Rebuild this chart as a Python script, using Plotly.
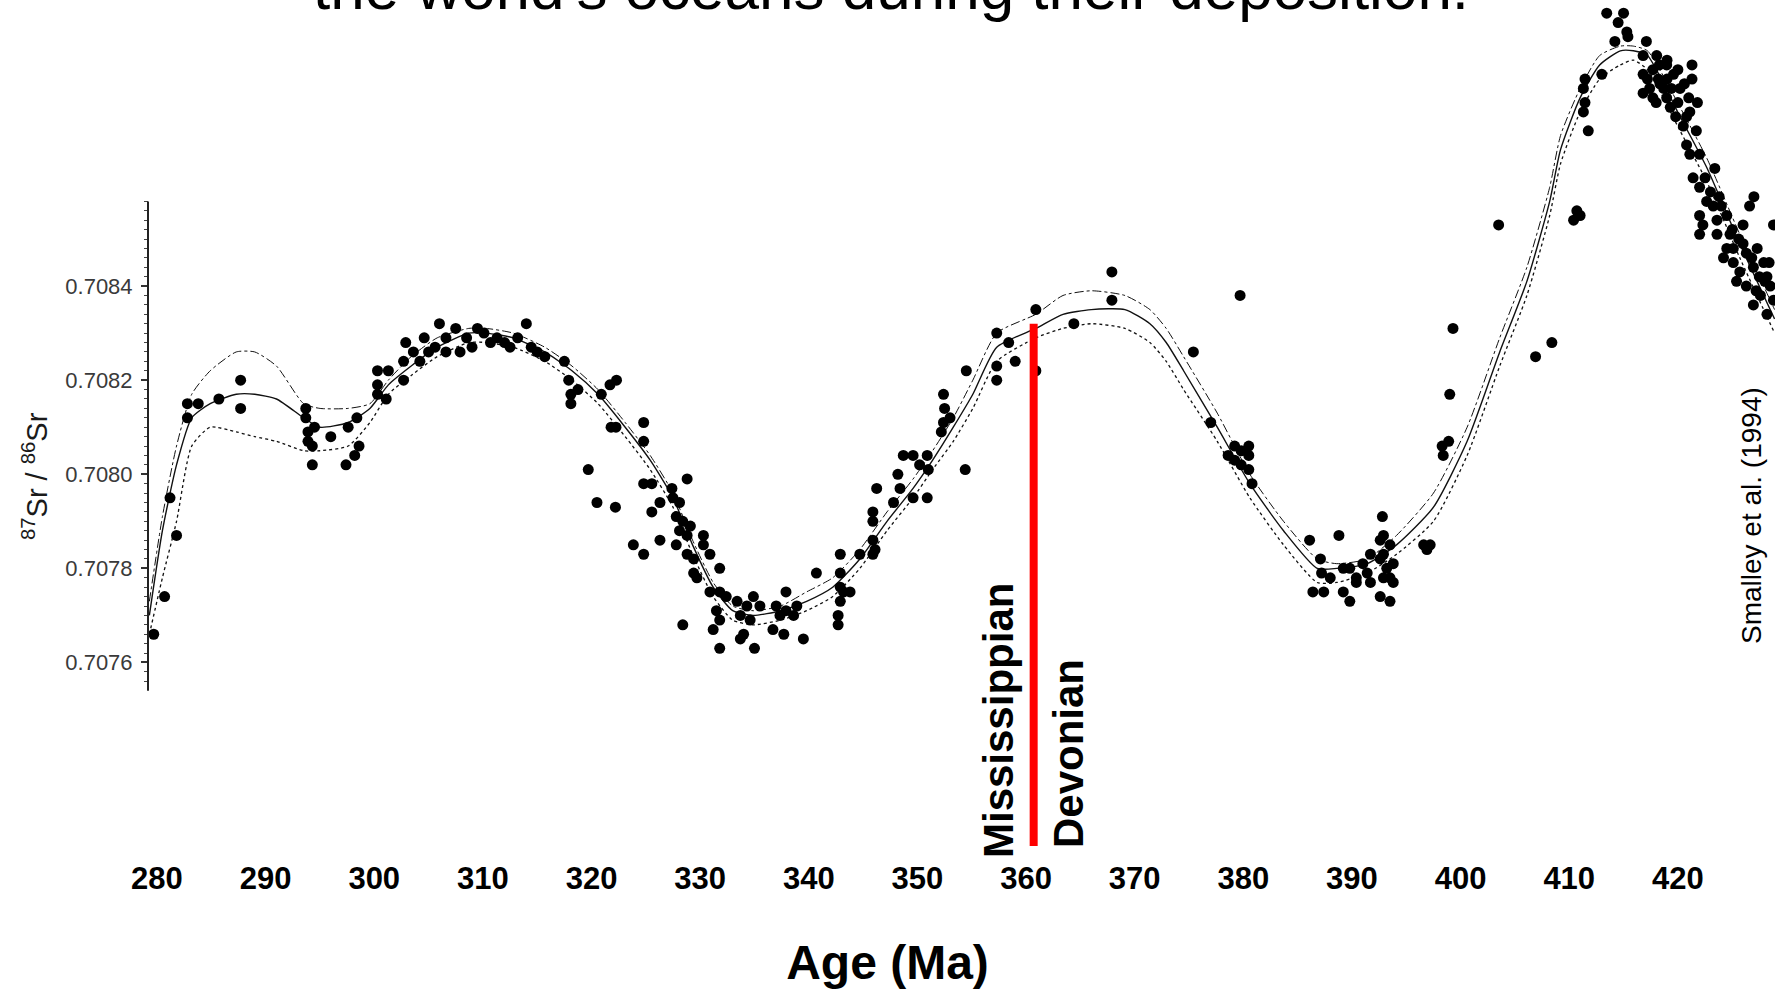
import numpy as np
import plotly.graph_objects as go

# ---------------- data (Age in Ma, 87Sr/86Sr) ----------------
AGE_CURVE = [279.3, 280.5, 281.8, 283.2, 284.9, 287.3, 289.0, 291.0, 293.5, 295.0,
             297.6, 299.6, 301.3, 303.4, 305.8, 308.7, 310.3, 312.8, 315.7, 318.2,
             320.6, 323.1, 325.4, 327.5, 329.3, 331.2, 333.0, 334.9, 337.4, 339.8,
             342.2, 344.7, 347.2, 349.6, 351.4, 353.3, 355.1, 357.3, 360.9, 363.4,
             366.0, 369.1, 371.4, 372.9, 374.5, 377.6, 380.6, 383.7, 386.8, 388.6,
             391.4, 394.1, 397.5, 400.6, 403.6, 406.1, 408.2, 409.2, 411.0, 412.8,
             414.7, 415.9, 417.2, 420.2, 422.7, 425.7, 428.9]
SR_MID = [0.70770, 0.70788, 0.70802, 0.70812, 0.70815, 0.70817, 0.70817, 0.70816, 0.70812, 0.70810,
          0.70811, 0.70814, 0.70819, 0.70823, 0.70827, 0.70830, 0.70830, 0.70829, 0.70826, 0.70822,
          0.70817, 0.70810, 0.70803, 0.70795, 0.70785, 0.70776, 0.70771, 0.70770, 0.70771, 0.70773,
          0.70776, 0.70782, 0.70790, 0.70797, 0.70803, 0.70810, 0.70817, 0.70827, 0.70831, 0.70834,
          0.70835, 0.70835, 0.70832, 0.70828, 0.70822, 0.70810, 0.70798, 0.70788, 0.70780, 0.70780,
          0.70781, 0.70785, 0.70793, 0.70807, 0.70826, 0.70841, 0.70858, 0.70869, 0.70880, 0.70887,
          0.70890, 0.70890, 0.70889, 0.70876, 0.70865, 0.70849, 0.70833]
SR_UPPER = [0.70773, 0.70791, 0.70806, 0.70817, 0.70822, 0.70826, 0.70826, 0.70823, 0.70815, 0.70814,
            0.70814, 0.70815, 0.70820, 0.70825, 0.70829, 0.70831, 0.70831, 0.70830, 0.70827, 0.70823,
            0.70818, 0.70811, 0.70804, 0.70796, 0.70786, 0.70777, 0.70772, 0.70771, 0.70772, 0.70775,
            0.70778, 0.70784, 0.70792, 0.70799, 0.70805, 0.70812, 0.70820, 0.70830, 0.70834, 0.70838,
            0.70839, 0.70838, 0.70835, 0.70831, 0.70825, 0.70813, 0.70800, 0.70790, 0.70782, 0.70781,
            0.70782, 0.70787, 0.70796, 0.70810, 0.70829, 0.70844, 0.70861, 0.70872, 0.70882, 0.70889,
            0.70891, 0.70891, 0.70890, 0.70878, 0.70867, 0.70851, 0.70835]
SR_LOWER = [0.70766, 0.70778, 0.70790, 0.70806, 0.70810, 0.70809, 0.70808, 0.70807, 0.70805, 0.70805,
            0.70806, 0.70811, 0.70817, 0.70821, 0.70825, 0.70828, 0.70828, 0.70827, 0.70824, 0.70820,
            0.70815, 0.70808, 0.70801, 0.70793, 0.70783, 0.70774, 0.70769, 0.70768, 0.70769, 0.70771,
            0.70774, 0.70780, 0.70788, 0.70795, 0.70801, 0.70807, 0.70814, 0.70824, 0.70829, 0.70831,
            0.70832, 0.70831, 0.70828, 0.70824, 0.70818, 0.70807, 0.70795, 0.70785, 0.70777, 0.70777,
            0.70779, 0.70783, 0.70790, 0.70804, 0.70823, 0.70838, 0.70855, 0.70866, 0.70877, 0.70884,
            0.70887, 0.70888, 0.70886, 0.70873, 0.70862, 0.70846, 0.70830]

AGE_A = [279.7, 280.7, 281.2, 281.8, 282.8, 282.8, 283.8, 285.7, 287.7, 287.7,
         293.7, 293.7, 293.9, 294.5, 293.9, 294.3, 294.3, 296.0, 297.6, 297.4, 298.4, 298.2, 298.6]
SR_A = [0.70766, 0.70774, 0.70795, 0.70787, 0.70812, 0.70815, 0.70815, 0.70816, 0.70820, 0.70814,
        0.70814, 0.70812, 0.70809, 0.70810, 0.70807, 0.70806, 0.70802, 0.70808, 0.70810, 0.70802, 0.70812, 0.70804, 0.70806]

AGE_B = [300.3, 300.3, 300.3, 301.3, 301.1, 302.7, 302.7, 302.9, 304.2, 304.6, 306.0, 305.6,
         306.6, 307.5, 306.6, 307.9, 309.5, 310.1, 310.7, 312.0, 313.2, 314.0, 314.45, 315.7,
         317.5, 317.9, 318.1, 318.1, 318.75, 303.6, 305.0, 308.5, 309.0, 311.3, 312.5, 315.0]
SR_B = [0.70822, 0.70819, 0.70817, 0.70822, 0.70816, 0.70824, 0.70820, 0.70828, 0.70824, 0.70829, 0.70832, 0.70827,
        0.70829, 0.70831, 0.70826, 0.70826, 0.70831, 0.70830, 0.70828, 0.70828, 0.70829, 0.70832, 0.70827, 0.70825,
        0.70824, 0.70820, 0.70817, 0.70815, 0.70818, 0.70826, 0.70826, 0.70829, 0.70827, 0.70829, 0.70827, 0.70826]

AGE_C = [320.9, 321.7, 322.3, 321.8, 322.25, 319.7, 320.5, 322.2, 324.8, 324.8, 324.8, 325.55,
         323.85, 324.8, 326.3, 325.55, 326.3, 327.4,
         327.5, 328.1, 327.8, 328.4, 329.1, 328.1, 328.8, 327.8, 328.8, 330.3, 330.3, 330.9,
         331.8, 328.8, 329.4, 329.4, 329.7, 328.4]
SR_C = [0.70817, 0.70819, 0.70820, 0.70810, 0.70810, 0.70801, 0.70794, 0.70793, 0.70811, 0.70807, 0.70798, 0.70798,
        0.70785, 0.70783, 0.70786, 0.70792, 0.70794, 0.70797,
        0.70795, 0.70794, 0.70791, 0.70790, 0.70789, 0.70788, 0.70787, 0.70785, 0.70799, 0.70787, 0.70785, 0.70783,
        0.70780, 0.70783, 0.70782, 0.70779, 0.70778, 0.70768]

AGE_D = [330.9, 331.8, 332.4, 331.5, 331.8, 331.2, 331.8, 333.4, 334.3, 334.9, 335.5, 333.7, 334.6,
         334.0, 333.7, 335.0, 336.7, 337.7, 337.0, 337.9, 338.6, 338.9, 337.35, 337.9, 339.5, 340.7]
SR_D = [0.70775, 0.70775, 0.70774, 0.70771, 0.70769, 0.70767, 0.70763, 0.70773, 0.70772, 0.70774, 0.70772, 0.70770, 0.70769,
        0.70766, 0.70765, 0.70763, 0.70767, 0.70766, 0.70772, 0.70771, 0.70770, 0.70772, 0.70770, 0.70775, 0.70765, 0.70779]

AGE_E = [342.9, 342.9, 342.9, 343.2, 343.8, 342.9, 342.7, 342.7, 344.7, 345.9, 346.1, 345.9,
         345.9, 345.9, 346.25, 347.8, 348.4, 348.2, 348.7, 349.6, 350.2, 349.6, 350.9, 351.0,
         350.9, 352.4, 352.5, 352.4, 352.2, 353.0, 354.4, 354.5, 357.3, 357.3, 357.3]
SR_E = [0.70783, 0.70779, 0.70776, 0.70775, 0.70775, 0.70773, 0.70770, 0.70768, 0.70783, 0.70786, 0.70784, 0.70783,
        0.70792, 0.70790, 0.70797, 0.70794, 0.70797, 0.70800, 0.70804, 0.70804, 0.70802, 0.70795, 0.70804, 0.70801,
        0.70795, 0.70817, 0.70814, 0.70811, 0.70809, 0.70812, 0.70801, 0.70822, 0.70830, 0.70823, 0.70820]

AGE_F = [360.9, 358.4, 359.0, 360.9, 364.4, 367.9, 367.9, 375.4, 379.7, 377.0, 379.2, 379.8,
         380.5, 379.2, 379.8, 380.5, 378.6, 380.5, 380.8]
SR_F = [0.70835, 0.70828, 0.70824, 0.70822, 0.70832, 0.70843, 0.70837, 0.70826, 0.70838, 0.70811, 0.70806, 0.70805,
        0.70806, 0.70803, 0.70802, 0.70804, 0.70804, 0.70801, 0.70798]

AGE_G = [386.1, 388.8, 392.8, 387.1, 387.2, 388.0, 386.4, 387.4, 389.2, 389.8, 390.4, 391.0, 391.4, 391.7,
         390.4, 391.7, 389.2, 389.8, 392.6, 392.9, 393.2, 393.5, 393.8, 392.9, 392.6, 393.5, 393.8, 392.9,
         392.6, 393.5, 396.6, 397.2, 396.9, 399.0, 399.3, 398.3, 398.9, 398.4, 403.5, 406.9, 408.4]
SR_G = [0.70786, 0.70787, 0.70791, 0.70782, 0.70779, 0.70778, 0.70775, 0.70775, 0.70780, 0.70780, 0.70778, 0.70781, 0.70779, 0.70783,
        0.70777, 0.70777, 0.70775, 0.70773, 0.70786, 0.70783, 0.70780, 0.70778, 0.70777, 0.70778, 0.70782, 0.70785, 0.70781, 0.70787,
        0.70774, 0.70773, 0.70785, 0.70785, 0.70784, 0.70817, 0.70831, 0.70806, 0.70807, 0.70804, 0.70853, 0.70825, 0.70828]

AGE_H = [413.45, 415.0, 414.5, 415.3, 415.4, 414.2, 413.0, 411.45, 411.3, 411.45, 411.3, 411.75, 417.1,
         416.8, 418.05, 418.97, 416.8, 417.7, 418.35, 419.6, 416.8, 417.7, 418.97, 419.3, 420.2, 418.7, 417.4,
         417.2, 418.0, 419.0, 418.3, 420.0, 419.8]
SR_H = [0.70898, 0.70898, 0.70896, 0.70894, 0.70893, 0.70892, 0.70885, 0.70884, 0.70882, 0.70879, 0.70877, 0.70873, 0.70892,
        0.70889, 0.70889, 0.70887, 0.70885, 0.70886, 0.70883, 0.70885, 0.70881, 0.70880, 0.70880, 0.70878, 0.70882, 0.70882, 0.70882,
        0.70884, 0.70879, 0.70884, 0.70887, 0.70879, 0.70876]

AGE_I = [421.3, 421.3, 421.0, 421.1, 420.8, 420.5, 421.7, 420.8, 421.1, 422.0, 423.4,
         421.4, 422.0, 422.65, 422.0, 423.25, 422.3, 423.6, 424.5, 422.0, 423.6,
         427.0, 426.6, 426.0,
         424.5, 425.1, 426.3, 427.3, 425.1, 425.7, 426.95, 427.9, 428.2, 426.3, 427.6, 426.95, 428.2, 428.8, 428.8,
         410.7, 411.0, 410.4]
SR_I = [0.70887, 0.70884, 0.70880, 0.70877, 0.70876, 0.70874, 0.70873, 0.70870, 0.70868, 0.70868, 0.70865,
        0.70863, 0.70861, 0.70858, 0.70855, 0.70857, 0.70853, 0.70854, 0.70855, 0.70851, 0.70851,
        0.70859, 0.70857, 0.70853,
        0.70848, 0.70848, 0.70847, 0.70848, 0.70845, 0.70843, 0.70844, 0.70845, 0.70842, 0.70840, 0.70838, 0.70836, 0.70834, 0.70837, 0.70853,
        0.70856, 0.70855, 0.70854]

AGE_J = [419.0, 420.0, 420.6, 421.8, 422.5, 423.0, 423.8, 424.0, 424.8, 425.0, 425.6, 426.0,
         426.8, 427.5, 428.0, 428.5, 424.2, 425.4, 427.2, 428.4, 418.2, 419.4]
SR_J = [0.70888, 0.70886, 0.70883, 0.70879, 0.70863, 0.70860, 0.70859, 0.70857, 0.70851, 0.70852, 0.70850, 0.70849,
        0.70846, 0.70842, 0.70841, 0.70840, 0.70846, 0.70841, 0.70839, 0.70845, 0.70884, 0.70882]

AGE_PTS = AGE_A + AGE_B + AGE_C + AGE_D + AGE_E + AGE_F + AGE_G + AGE_H + AGE_I + AGE_J
SR_PTS = SR_A + SR_B + SR_C + SR_D + SR_E + SR_F + SR_G + SR_H + SR_I + SR_J

X_TICKS = [280, 290, 300, 310, 320, 330, 340, 350, 360, 370, 380, 390, 400, 410, 420]
Y_TICKS = [0.7076, 0.7078, 0.7080, 0.7082, 0.7084]
Y_TICK_TEXT = ["0.7076", "0.7078", "0.7080", "0.7082", "0.7084"]
Y_AXIS_SPAN = [0.70754, 0.70858]
BOUNDARY_MA = 360.7
BOUNDARY_SPAN = [0.70721, 0.70832]
TITLE_TEXT = "the world's oceans during their deposition."
SOURCE_TEXT = "Smalley et al. (1994)"
Y_TITLE = "<sup>87</sup>Sr / <sup>86</sup>Sr"

# ---------------- figure ----------------
W, H = 1775, 989
FONT = "Liberation Sans, Arial, sans-serif"
X_RANGE = [265.55, 428.94]
Y_RANGE = [0.706906, 0.709008]
Y_AXIS_POS = 148 / W

fig = go.Figure()
for ys, dash, w in [(SR_UPPER, "dashdot", 1.0), (SR_LOWER, "dot", 1.3), (SR_MID, "solid", 1.4)]:
    fig.add_trace(go.Scatter(x=AGE_CURVE, y=ys, mode="lines",
                             line=dict(color="#111111", width=w, dash=dash, shape="spline", smoothing=0.6),
                             hoverinfo="skip"))
fig.add_trace(go.Scatter(x=AGE_PTS, y=SR_PTS, mode="markers",
                         marker=dict(color="black", size=11, line=dict(width=0)), cliponaxis=False))

minor_vals = [v for v in np.round(np.arange(0.70756, 0.70858, 0.00002), 5)]

fig.update_layout(
    width=W, height=H, margin=dict(l=0, r=0, t=0, b=0),
    paper_bgcolor="white", plot_bgcolor="white", showlegend=False,
    xaxis=dict(range=X_RANGE, domain=[0, 1], anchor="free", position=(H - 857) / H,
               tickmode="array", tickvals=X_TICKS, ticks="", showline=False, showgrid=False,
               zeroline=False,
               tickfont=dict(family=FONT, size=31, color="black", weight="bold"),
               title=dict(text="<b>Age (Ma)</b>", font=dict(family=FONT, size=48, color="black"),
                          standoff=51)),
    yaxis=dict(range=Y_RANGE, domain=[0, 1], anchor="free", position=Y_AXIS_POS,
               tickmode="array", tickvals=Y_TICKS, ticktext=Y_TICK_TEXT,
               ticks="outside", ticklen=7, tickwidth=1.5, tickcolor="#333333",
               ticklabelstandoff=4,
               showline=False, showgrid=False, zeroline=False,
               tickfont=dict(family=FONT, size=22, color="#3a3a3a"),
               minor=dict(tickmode="array", tickvals=minor_vals, ticks="outside",
                          ticklen=4, tickwidth=1, tickcolor="#444444")),
)

# scanned figure's y-axis line
fig.add_shape(type="line", xref="paper", yref="y", x0=Y_AXIS_POS, x1=Y_AXIS_POS,
              y0=Y_AXIS_SPAN[0], y1=Y_AXIS_SPAN[1], line=dict(color="#222222", width=2))
# period boundary
fig.add_shape(type="line", xref="x", yref="y", x0=BOUNDARY_MA, x1=BOUNDARY_MA,
              y0=BOUNDARY_SPAN[0], y1=BOUNDARY_SPAN[1], line=dict(color="#ff0000", width=8))

fig.add_annotation(x=35 / W, y=(H - 476) / H, xref="paper", yref="paper", text=Y_TITLE,
                   xanchor="center", yanchor="middle",
                   textangle=-90, showarrow=False, font=dict(family=FONT, size=29, color="#1a1a1a"))
fig.add_annotation(x=357.48, y=0.707477, xref="x", yref="y", text="<b>Mississippian</b>",
                   xanchor="center", yanchor="middle",
                   textangle=-90, showarrow=False, font=dict(family=FONT, size=42, color="black"))
fig.add_annotation(x=363.93, y=0.707407, xref="x", yref="y", text="<b>Devonian</b>",
                   xanchor="center", yanchor="middle",
                   textangle=-90, showarrow=False, font=dict(family=FONT, size=42, color="black"))
fig.add_annotation(x=1769 / W, y=(H - 515.5) / H, xref="paper", yref="paper", text=SOURCE_TEXT,
                   xanchor="right", yanchor="middle",
                   textangle=-90, showarrow=False, font=dict(family=FONT, size=28, color="black"))
fig.add_annotation(x=891 / W, y=1 + 12.5 / H, xref="paper", yref="paper", text=TITLE_TEXT,
                   xanchor="center", yanchor="middle",
                   showarrow=False, font=dict(family=FONT, size=62, color="black"))

fig.write_html("out.html")
